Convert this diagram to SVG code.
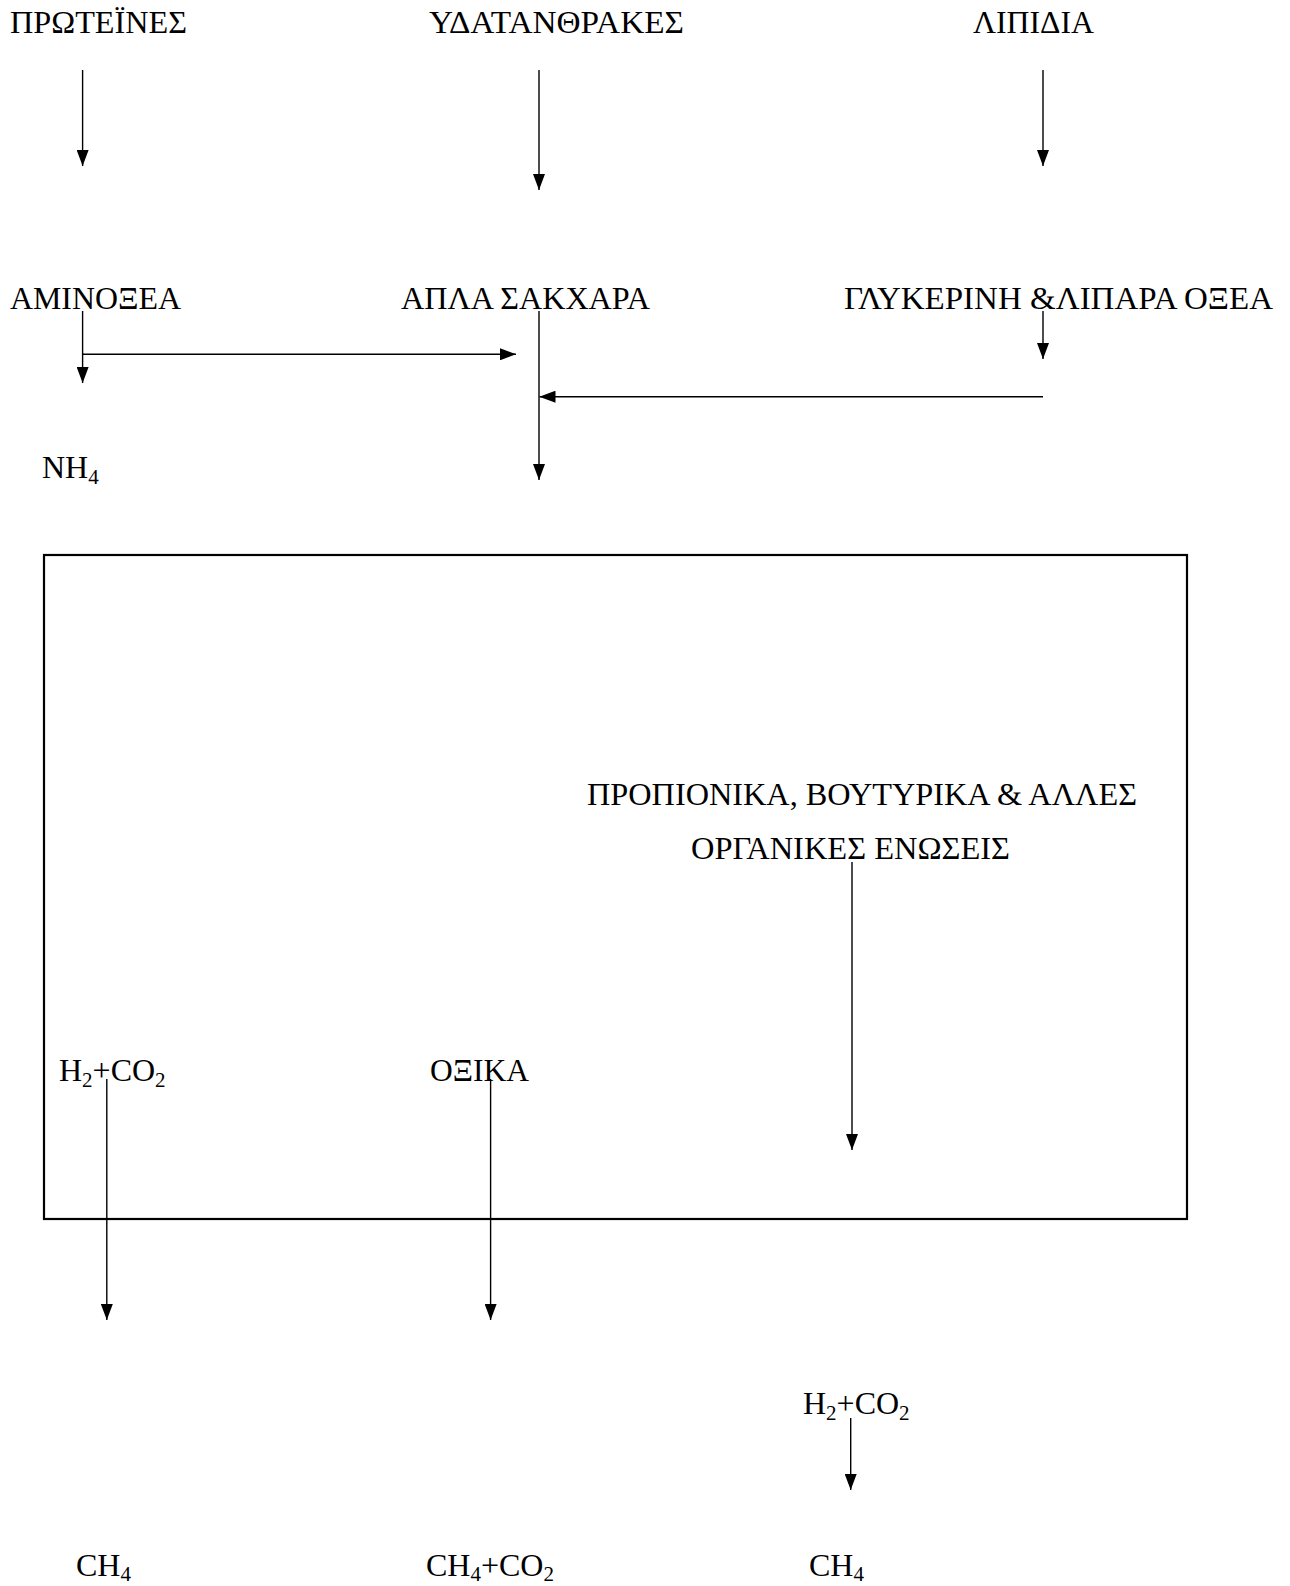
<svg xmlns="http://www.w3.org/2000/svg" width="1290" height="1586" viewBox="0 0 1290 1586">
<style>
text{font-family:"Liberation Serif","Times New Roman",serif;font-size:32px;fill:#000}
.sub{font-size:21px}
.c line{stroke:#000;stroke-width:1.4;fill:none}
.arr{marker-end:url(#ah)}
</style>
<defs>
<marker id="ah" markerUnits="userSpaceOnUse" markerWidth="16" markerHeight="12" refX="16" refY="6" orient="auto">
<path d="M0,0 L16,6 L0,12 z" fill="#000"/>
</marker>
</defs>
<rect width="1290" height="1586" fill="#fff"/>
<g id="n-box"><rect x="44" y="555" width="1143" height="664" fill="none" stroke="#000" stroke-width="2.2"/></g>
<g id="n-proteines"><text x="10" y="33" textLength="177" lengthAdjust="spacingAndGlyphs">ΠΡΩΤΕΪΝΕΣ</text></g>
<g id="n-ydatanthrakes"><text x="429" y="33" textLength="255" lengthAdjust="spacingAndGlyphs">ΥΔΑΤΑΝΘΡΑΚΕΣ</text></g>
<g id="n-lipidia"><text x="973" y="33" textLength="121" lengthAdjust="spacingAndGlyphs">ΛΙΠΙΔΙΑ</text></g>
<g id="n-aminoxea"><text x="10" y="309" textLength="171" lengthAdjust="spacingAndGlyphs">ΑΜΙΝΟΞΕΑ</text></g>
<g id="n-apla"><text x="401" y="309" textLength="249" lengthAdjust="spacingAndGlyphs">ΑΠΛΑ ΣΑΚΧΑΡΑ</text></g>
<g id="n-glykerini"><text x="844" y="309" textLength="429" lengthAdjust="spacingAndGlyphs">ΓΛΥΚΕΡΙΝΗ &amp;ΛΙΠΑΡΑ ΟΞΕΑ</text></g>
<g id="n-nh4"><text x="42" y="478">NH<tspan class="sub" dy="6">4</tspan></text></g>
<g id="n-propionika"><text x="587" y="805" textLength="550" lengthAdjust="spacingAndGlyphs">ΠΡΟΠΙΟΝΙΚΑ, ΒΟΥΤΥΡΙΚΑ &amp; ΑΛΛΕΣ</text><text x="691" y="859" textLength="319" lengthAdjust="spacingAndGlyphs">ΟΡΓΑΝΙΚΕΣ ΕΝΩΣΕΙΣ</text></g>
<g id="n-h2co2-a"><text x="59" y="1081">H<tspan class="sub" dy="6">2</tspan><tspan dy="-6">+CO</tspan><tspan class="sub" dy="6">2</tspan></text></g>
<g id="n-oxika"><text x="430" y="1081" textLength="99" lengthAdjust="spacingAndGlyphs">ΟΞΙΚΑ</text></g>
<g id="n-h2co2-b"><text x="803" y="1414">H<tspan class="sub" dy="6">2</tspan><tspan dy="-6">+CO</tspan><tspan class="sub" dy="6">2</tspan></text></g>
<g id="n-ch4-a"><text x="76" y="1576">CH<tspan class="sub" dy="5">4</tspan></text></g>
<g id="n-ch4co2"><text x="426" y="1576">CH<tspan class="sub" dy="5">4</tspan><tspan dy="-5">+CO</tspan><tspan class="sub" dy="5">2</tspan></text></g>
<g id="n-ch4-b"><text x="809" y="1576">CH<tspan class="sub" dy="5">4</tspan></text></g>
<g id="connectors" class="c">
<line class="arr" x1="82.6" y1="70" x2="82.6" y2="166"/>
<line class="arr" x1="539" y1="70" x2="539" y2="190"/>
<line class="arr" x1="1043" y1="70" x2="1043" y2="166"/>
<line class="arr" x1="82.6" y1="311" x2="82.6" y2="383"/>
<line class="arr" x1="82.6" y1="354.3" x2="516" y2="354.3"/>
<line class="arr" x1="539" y1="311" x2="539" y2="480"/>
<line class="arr" x1="1043" y1="311" x2="1043" y2="359"/>
<line class="arr" x1="1043" y1="396.7" x2="539.5" y2="396.7"/>
<line class="arr" x1="852" y1="862" x2="852" y2="1150"/>
<line class="arr" x1="106.8" y1="1079" x2="106.8" y2="1320"/>
<line class="arr" x1="490.6" y1="1079" x2="490.6" y2="1320"/>
<line class="arr" x1="850.7" y1="1418" x2="850.7" y2="1490"/>
</g>
</svg>
